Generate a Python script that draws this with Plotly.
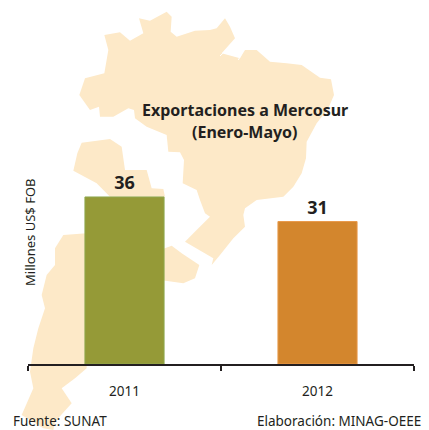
import plotly.graph_objects as go

years = ["2011", "2012"]
exports_musd = [36, 30.7]
bar_colors = ["#959a37", "#d3862d"]
bar_edges = ["#8fa84f", "#e8994a"]

W, H = 429, 430
INK = "#231f20"
MAP = "#fde9c8"
FONT = "Noto Sans"

# Decorative backdrop map of the Mercosur countries, traced in 3x-zoom pixels
brazil = [(313,105),(360,97),(390,122),(430,100),(417,55),(450,62),(500,35),(515,50),(512,95),(530,110),
 (585,92),(630,90),(650,85),(675,55),(690,80),(705,115),(665,160),(720,175),(735,150),(770,150),(810,185),
 (860,190),(905,195),(960,233),(993,238),(1002,285),(985,325),(950,370),(920,425),(918,475),(905,520),
 (880,560),(850,590),(770,600),(735,625),(730,645),(735,680),(700,715),(660,765),(635,795),(640,775),
 (555,725),(590,690),(630,650),(615,640),(600,600),(590,570),(548,550),(552,480),(540,457),(505,455),
 (500,405),(440,380),(405,355),(402,330),(385,325),(340,350),(300,350),(297,320),(270,330),(238,285),
 (255,235),(313,220),(325,150)]
bolivia = [(245,428),(330,417),(365,440),(375,510),(440,510),(455,565),(490,567),(495,590),(330,590),
 (290,550),(220,512),(232,460)]
argentina = [(190,705),(260,700),(260,1105),(225,1135),(185,1165),(215,1210),(165,1265),(160,1290),
 (130,1285),(65,1245),(100,1165),(90,1115),(100,1045),(115,985),(135,925),(125,885),(140,825),(165,795),(165,745)]
uruguay = [(480,750),(515,737),(545,760),(598,795),(585,835),(550,850),(480,840)]
delta = [(660,168),(700,130),(712,125),(690,142),(735,142),(715,180)]


def path(points, close=True):
    parts = [f"{x/3/W:.5f},{1-y/3/H:.5f}" for x, y in points]
    return "M" + "L".join(parts) + ("Z" if close else "")


shapes = [dict(type="path", xref="paper", yref="paper", path=path(p), fillcolor=MAP,
               line=dict(width=0), layer="below")
          for p in (brazil, bolivia, argentina, uruguay)]
shapes.append(dict(type="path", xref="paper", yref="paper", path=path(delta, False),
                   fillcolor="rgba(0,0,0,0)", line=dict(width=1, color="white"), layer="below"))

fig = go.Figure(go.Bar(
    x=years, y=exports_musd,
    marker=dict(color=bar_colors, line=dict(color=bar_edges, width=1)),
    width=0.41,
    texttemplate="%{y:.0f}", textposition="outside", cliponaxis=False,
    textfont=dict(family=FONT, size=18, color=INK, weight=700),
    hoverinfo="skip",
))


def note(text, x, y, size, anchor="center", bold=False, angle=0):
    return dict(text=f"<b>{text}</b>" if bold else text, x=x/W, y=1-y/H, xref="paper", yref="paper",
                showarrow=False, xanchor=anchor, yanchor="middle", borderpad=0, textangle=angle,
                font=dict(family=FONT, size=size, color=INK))


fig.update_layout(
    width=W, height=H, margin=dict(l=0, r=0, t=0, b=0), autosize=False,
    paper_bgcolor="white", plot_bgcolor="rgba(0,0,0,0)", showlegend=False, shapes=shapes,
    xaxis=dict(domain=[28/W, 414/W], type="category", tickson="boundaries", ticks="outside",
               ticklen=5, tickwidth=1.5, tickcolor=INK, showline=True, linecolor=INK, linewidth=2,
               showgrid=False, zeroline=False, ticklabelstandoff=14,
               tickfont=dict(family=FONT, size=13.5, color=INK)),
    yaxis=dict(domain=[1-364/H, 1-100/H], range=[0, 56.9], showticklabels=False, ticks="",
               showgrid=False, zeroline=False, showline=False),
    annotations=[
        note("Exportaciones a Mercosur", 245, 110, 16, bold=True),
        note("(Enero-Mayo)", 245, 132, 16, bold=True),
        note("Millones US$ FOB", 30, 232, 13, angle=-90),
        note("Fuente: SUNAT", 12, 421, 13.5, anchor="left"),
        note("Elaboración: MINAG-OEEE", 422, 421, 13.5, anchor="right"),
    ],
)

fig.write_html("out.html", config=dict(displayModeBar=False),
               post_script="document.body.style.margin='0';")
